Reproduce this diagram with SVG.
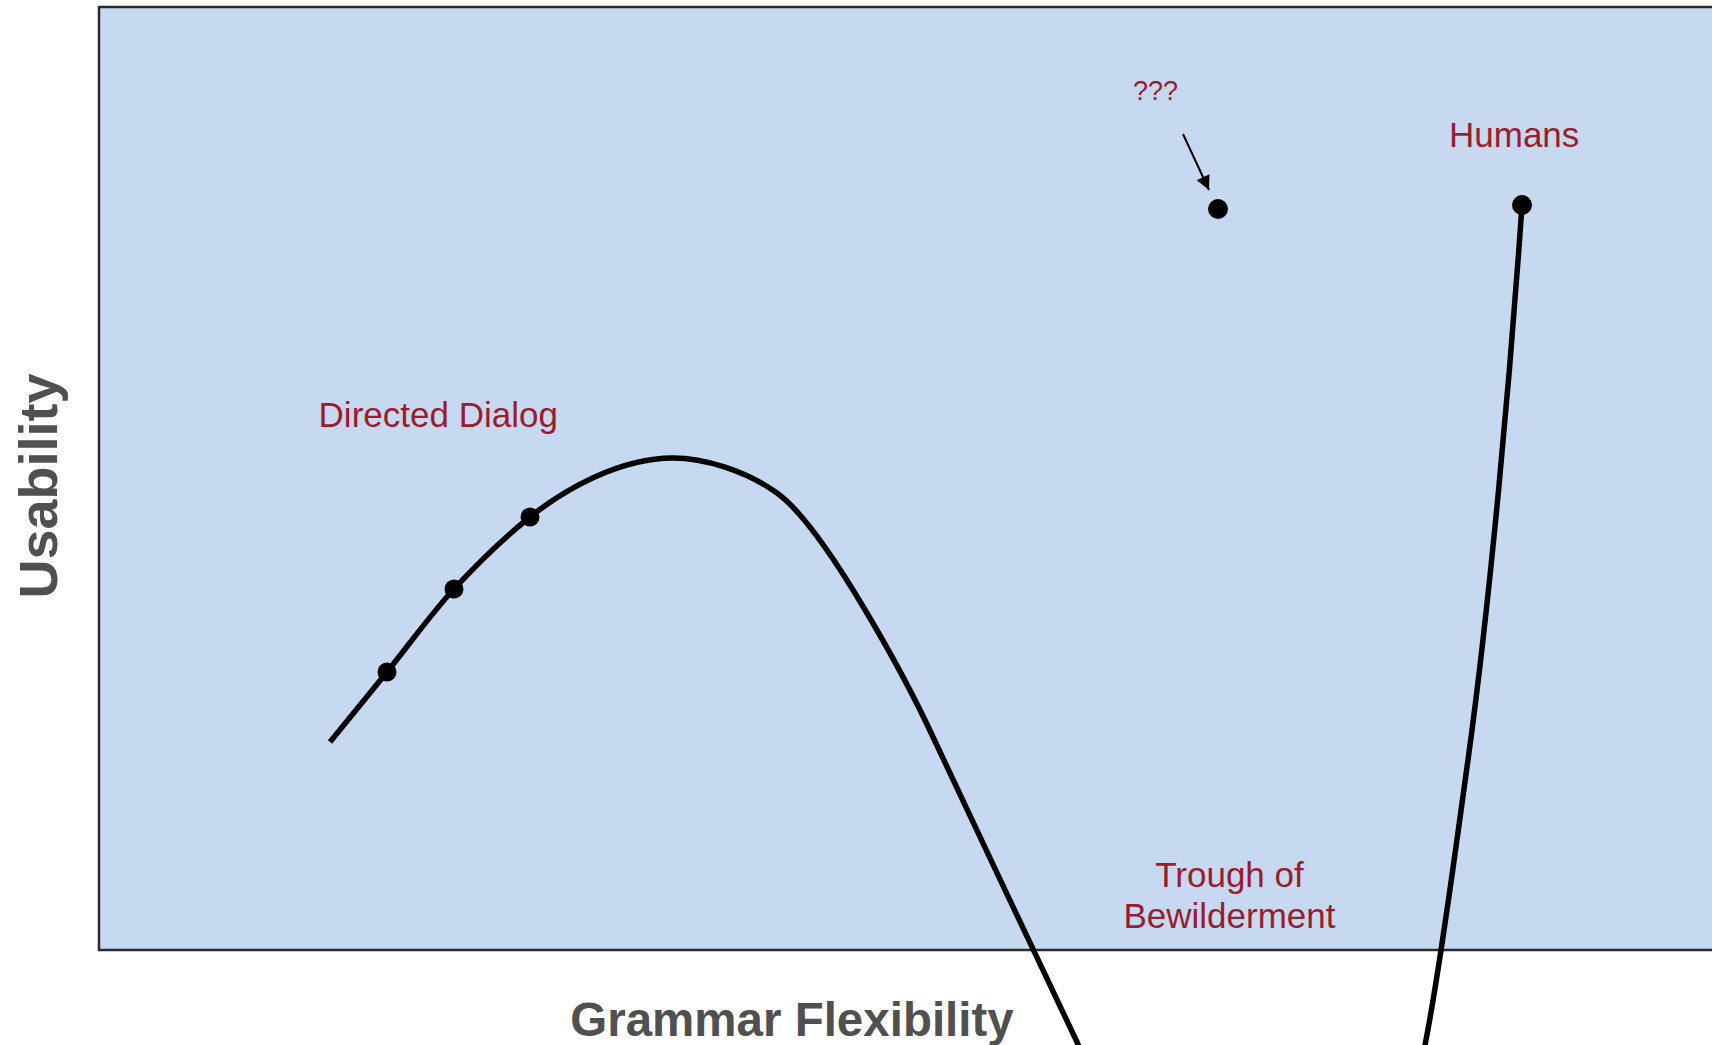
<svg xmlns="http://www.w3.org/2000/svg" width="1712" height="1045" viewBox="0 0 1712 1045">
  <style>
    .lbl { font-family: "Liberation Sans", Arial, sans-serif; font-size: 35px; fill: #9b1c2c; }
    .small { font-size: 27px; }
    .axis { font-family: "Liberation Sans", Arial, sans-serif; font-weight: bold; fill: #505050; }
    .curve { fill: none; stroke: #000; stroke-width: 5.5; stroke-linejoin: round; }
    .dot { fill: #000; }
  </style>
  <defs>
    <marker id="arrow" viewBox="0 0 10 10" refX="10" refY="5" markerWidth="8.5" markerHeight="7" markerUnits="strokeWidth" orient="auto">
      <path d="M0,0 L10,5 L0,10 Z" fill="#000"/>
    </marker>
  </defs>
  <rect width="1712" height="1045" fill="#ffffff"/>
  <g id="plot-area">
    <rect x="99" y="7" width="1640" height="943" fill="#c6d9f1" stroke="#2a2a2a" stroke-width="2.5"/>
  </g>
  <g id="axis-labels">
    <text class="axis" x="792" y="1036" font-size="47.5" text-anchor="middle">Grammar Flexibility</text>
    <text class="axis" font-size="54" text-anchor="middle" transform="translate(57,486) rotate(-90)">Usability</text>
  </g>
  <g id="connectors">
    <path class="curve" d="M330,742 C339.5,730.3 366.3,697.5 387,672 C407.7,646.5 430.2,614.8 454,589 C477.8,563.2 507.2,535.2 530,517 C565,489 620,458 673,458 C703,458 745,470 777,493 C825.7,528 907.8,682.6 933,737 C960,795 1050,985 1077,1042 L1095,1085"/>
    <path class="curve" d="M1522,205 C1510,380 1490,600 1468,760 C1454,860 1440,970 1425,1045 L1418,1085"/>
    <line x1="1183" y1="134" x2="1209" y2="190" stroke="#000" stroke-width="2" marker-end="url(#arrow)"/>
  </g>
  <g id="node-directed-dialog">
    <text class="lbl" x="318.6" y="427">Directed Dialog</text>
    <circle class="dot" cx="387" cy="672" r="9.5"/>
    <circle class="dot" cx="454" cy="589" r="9.5"/>
    <circle class="dot" cx="530" cy="517" r="9.5"/>
  </g>
  <g id="node-unknown">
    <text class="lbl small" x="1133" y="100">???</text>
    <circle class="dot" cx="1218" cy="209" r="10"/>
  </g>
  <g id="node-humans">
    <text class="lbl" x="1449" y="147">Humans</text>
    <circle class="dot" cx="1522" cy="205" r="10"/>
  </g>
  <g id="node-trough">
    <text class="lbl" x="1229.5" y="887" text-anchor="middle">Trough of</text>
    <text class="lbl" x="1229.5" y="928" text-anchor="middle">Bewilderment</text>
  </g>
</svg>
